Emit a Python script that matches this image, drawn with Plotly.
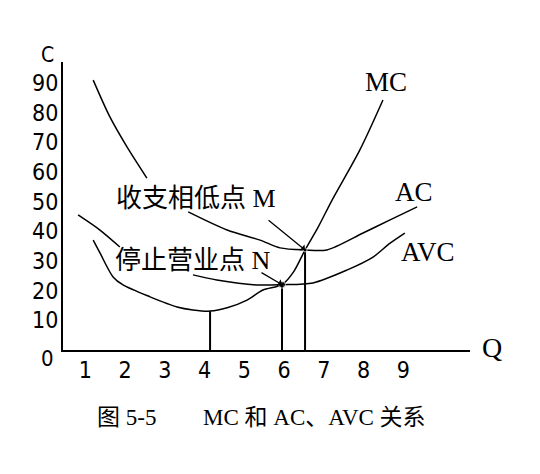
import plotly.graph_objects as go

# ---- data ----
x_ticks = [1, 2, 3, 4, 5, 6, 7, 8, 9]
y_ticks = [10, 20, 30, 40, 50, 60, 70, 80, 90]

mc_q = [1.2, 1.37, 1.7, 1.95, 2.63, 3.31, 3.71, 4.14, 4.57, 5.07, 5.47, 5.95, 6.25, 6.53, 6.86, 7.21, 7.91, 8.49]
mc_c = [37.0, 32.7, 24.6, 21.9, 17.9, 14.5, 13.5, 13.1, 14.2, 16.8, 20.2, 22.0, 26.5, 33.7, 41.4, 50.5, 67.4, 84.2]

ac_q = [1.2, 1.62, 2.05, 2.55, None, 3.59, 4.57, 5.4, 5.9, 6.53, 7.08, 7.99, 8.67, 9.35]
ac_c = [90.9, 78.5, 68.4, 57.9, None, 46.5, 40.4, 37.0, 34.4, 33.7, 33.7, 39.4, 43.8, 48.2]

avc_q = [0.82, 1.37, 1.87, None, 3.71, 4.31, 5.32, 5.95, 6.73, 7.58, 8.24, 8.67, 9.04]
avc_c = [45.5, 40.4, 34.7, None, 25.3, 23.6, 21.9, 22.0, 22.6, 26.9, 31.3, 36.0, 39.4]

# key points: MC minimum, N (shutdown), M (break-even)
key_q = [4.14, 5.95, 6.53]
key_c = [13.1, 22.0, 33.7]

LAT_SERIF = "Liberation Serif, Times New Roman, serif"
MIX = "Liberation Serif, Noto Sans CJK SC, serif"
DIGITS = "DejaVu Sans Condensed, Liberation Sans, sans-serif"

fig = go.Figure()
line_style = dict(color="black", width=1.5, shape="spline", smoothing=0.8)
for q, c in [(mc_q, mc_c), (ac_q, ac_c), (avc_q, avc_c)]:
    fig.add_trace(go.Scatter(x=q, y=c, mode="lines", line=line_style,
                             connectgaps=False, hoverinfo="skip", showlegend=False))

# vertical drop lines to the Q axis
for q, c in zip(key_q, key_c):
    fig.add_trace(go.Scatter(x=[q, q], y=[0, c], mode="lines",
                             line=dict(color="black", width=2),
                             hoverinfo="skip", showlegend=False))

# dots at N and M
fig.add_trace(go.Scatter(x=key_q[1:], y=key_c[1:], mode="markers",
                         marker=dict(color="black", size=[7, 4]),
                         hoverinfo="skip", showlegend=False))

ann = []
def txt(x, y, s, size, fam, ref="x", **kw):
    d = dict(x=x, y=y, xref="x" if ref == "x" else "paper",
             yref="y" if ref == "x" else "paper", text=s, showarrow=False,
             xanchor="center", yanchor="middle",
             font=dict(family=fam, size=size, color="black"))
    d.update(kw)
    ann.append(d)

txt(8.57, 90.3, "MC", 27, LAT_SERIF)
txt(9.27, 53.2, "AC", 27, LAT_SERIF)
txt(9.62, 33.0, "AVC", 27, LAT_SERIF)
txt(3.79, 50.9, "收支相低点 M", 26, MIX)
txt(3.71, 30.0, "停止营业点 N", 26, MIX)
txt(1.054, 0.010, "Q", 28, LAT_SERIF, ref="paper")
txt(-0.037, 1.024, "C", 21, DIGITS, ref="paper")
txt(-0.037, -0.031, "0", 22, DIGITS, ref="paper")
txt(0.157, -0.236, "图 5-5", 23, MIX, ref="paper")
txt(0.617, -0.236, "MC 和 AC、AVC 关系", 23, MIX, ref="paper")

# arrows from labels to M and N
ann.append(dict(x=key_q[2], y=key_c[2], xref="x", yref="y", ax=-38, ay=-31,
                showarrow=True, arrowhead=1, arrowsize=1, arrowwidth=1.3,
                arrowcolor="black", text=""))
ann.append(dict(x=key_q[1], y=key_c[1], xref="x", yref="y", ax=-22, ay=-13,
                showarrow=True, arrowhead=1, arrowsize=1, arrowwidth=1.3,
                arrowcolor="black", text=""))

fig.update_layout(
    width=540, height=474,
    margin=dict(l=63, r=70, t=62, b=124),
    paper_bgcolor="white", plot_bgcolor="white",
    annotations=ann,
    xaxis=dict(range=[0.44, 10.68], tickvals=x_ticks, ticktext=[str(v) for v in x_ticks],
               showgrid=False, zeroline=False, showline=True, linecolor="black",
               linewidth=2, ticks="", ticklabelstandoff=-2,
               tickfont=dict(family=DIGITS, size=23, color="black")),
    yaxis=dict(range=[0, 97], tickvals=y_ticks, ticktext=[str(v) for v in y_ticks],
               showgrid=False, zeroline=False, showline=True, linecolor="black",
               linewidth=2, ticks="", ticklabelstandoff=-2,
               tickfont=dict(family=DIGITS, size=23, color="black")),
)

fig.write_html("out.html")
